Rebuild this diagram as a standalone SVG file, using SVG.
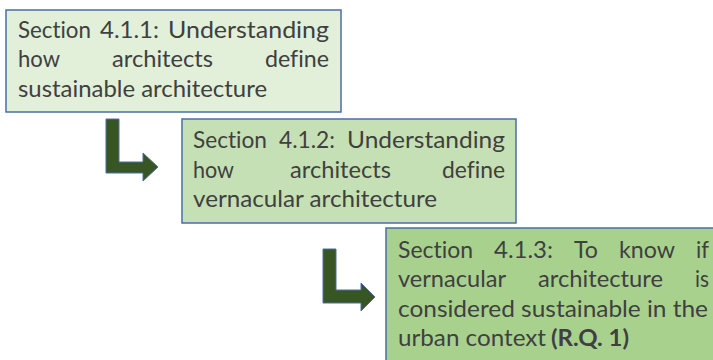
<svg xmlns="http://www.w3.org/2000/svg" width="713" height="360" viewBox="0 0 713 360">
  <style>
    .box { stroke: #4a6fa5; stroke-width: 1.5; }
    .b1 { fill: #e2efd9; }
    .b2 { fill: #c5e0b4; }
    .b3 { fill: #a9d18e; }
    .t { font-family: Lato, "Open Sans", "Liberation Sans", sans-serif; font-size: 23px; fill: #404040; font-variant-ligatures: none; }
    .bold { font-weight: bold; }
    .arrow { fill: #375623; stroke: #4a6fa5; stroke-width: 1; }
  </style>
  <rect width="713" height="360" fill="#ffffff"/>

  <g id="node-4-1-1">
    <rect class="box b1" x="6" y="10" width="335" height="102"/>
    <text class="t" x="18" y="38" textLength="73" lengthAdjust="spacingAndGlyphs">Section</text>
    <text class="t" x="100" y="38" textLength="59" lengthAdjust="spacingAndGlyphs">4.1.1:</text>
    <text class="t" x="168" y="38" textLength="161" lengthAdjust="spacingAndGlyphs">Understanding</text>
    <text class="t" x="18" y="67" textLength="42" lengthAdjust="spacingAndGlyphs">how</text>
    <text class="t" x="112" y="67" textLength="101" lengthAdjust="spacingAndGlyphs">architects</text>
    <text class="t" x="265" y="67" textLength="64" lengthAdjust="spacingAndGlyphs">define</text>
    <text class="t" x="18" y="97" textLength="249" lengthAdjust="spacingAndGlyphs">sustainable architecture</text>
  </g>

  <g id="node-4-1-2">
    <rect class="box b2" x="182" y="119" width="334" height="104"/>
    <text class="t" x="193" y="148" textLength="74" lengthAdjust="spacingAndGlyphs">Section</text>
    <text class="t" x="279" y="148" textLength="56" lengthAdjust="spacingAndGlyphs">4.1.2:</text>
    <text class="t" x="347" y="148" textLength="158" lengthAdjust="spacingAndGlyphs">Understanding</text>
    <text class="t" x="193" y="178" textLength="41" lengthAdjust="spacingAndGlyphs">how</text>
    <text class="t" x="290" y="178" textLength="101" lengthAdjust="spacingAndGlyphs">architects</text>
    <text class="t" x="442" y="178" textLength="63" lengthAdjust="spacingAndGlyphs">define</text>
    <text class="t" x="193" y="207" textLength="244" lengthAdjust="spacingAndGlyphs">vernacular architecture</text>
  </g>

  <g id="node-4-1-3">
    <rect class="box b3" x="386" y="228" width="340" height="140"/>
    <text class="t" x="398" y="258" textLength="75" lengthAdjust="spacingAndGlyphs">Section</text>
    <text class="t" x="494" y="258" textLength="59" lengthAdjust="spacingAndGlyphs">4.1.3:</text>
    <text class="t" x="574" y="258" textLength="24" lengthAdjust="spacingAndGlyphs">To</text>
    <text class="t" x="619" y="258" textLength="56" lengthAdjust="spacingAndGlyphs">know</text>
    <text class="t" x="696" y="258" textLength="13" lengthAdjust="spacingAndGlyphs">if</text>
    <text class="t" x="398" y="287" textLength="108" lengthAdjust="spacingAndGlyphs">vernacular</text>
    <text class="t" x="538" y="287" textLength="125" lengthAdjust="spacingAndGlyphs">architecture</text>
    <text class="t" x="695" y="287" textLength="14" lengthAdjust="spacingAndGlyphs">is</text>
    <text class="t" x="398" y="317" textLength="310" lengthAdjust="spacingAndGlyphs">considered sustainable in the</text>
    <text class="t" x="398" y="346" textLength="148" lengthAdjust="spacingAndGlyphs">urban context</text>
    <text class="t bold" x="551" y="346" textLength="78" lengthAdjust="spacingAndGlyphs">(R.Q. 1)</text>
  </g>

  <g id="connectors">
    <path class="arrow" d="M106,119 H119 V162 H143 V153 L158,167 L143,181 V173 H106 Z"/>
    <path class="arrow" d="M323,249 H336 V290 H361 V283 L375,297 L361,311 V303 H323 Z"/>
  </g>
</svg>
